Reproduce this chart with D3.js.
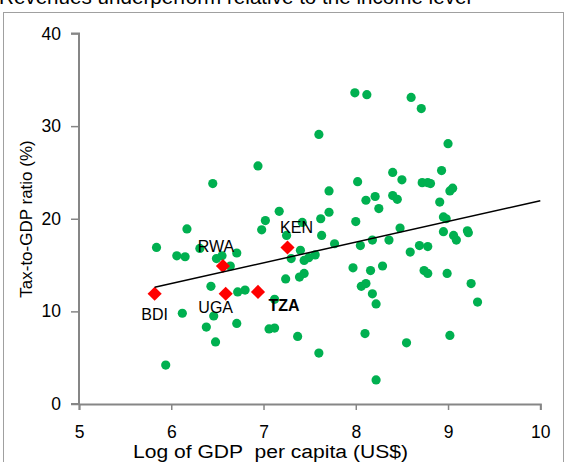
<!DOCTYPE html>
<html>
<head>
<meta charset="utf-8">
<script src="https://cdn.jsdelivr.net/npm/d3@7"></script>
<style>
  html, body { margin: 0; padding: 0; background: #fff; }
  svg { display: block; font-family: "Liberation Sans", Arial, sans-serif; }
</style>
</head>
<body>
<svg id="chart" width="567" height="462"></svg>
<script>
// ---- data ----
const titleText = "Revenues underperform relative to the income level";
const xLabel = "Log of GDP  per capita (US$)";
const yLabel = "Tax-to-GDP ratio (%)";
const xTicks = [5, 6, 7, 8, 9, 10];
const yTicks = [0, 10, 20, 30, 40];

// Other countries (log GDP per capita, tax-to-GDP %)
const otherX = [6.94,6.45,7.17,7.02,6.98,6.17,5.84,6.06,6.15,6.31,6.49,6.55,6.71,6.64,6.43,6.72,6.80,7.12,6.12,6.46,
  6.38,6.71,7.06,7.12,6.48,5.94,7.37,7.60,7.24,7.39,7.44,7.25,7.40,7.30,7.44,7.49,7.56,7.42,7.62,7.63,
  7.77,7.71,7.71,7.60,7.99,8.12,8.60,8.71,9.00,8.93,8.40,8.50,8.02,8.72,8.78,8.81,9.02,9.05,8.21,8.11,
  8.40,8.45,8.25,8.91,8.00,8.95,8.98,8.48,8.95,9.06,9.09,9.21,9.22,8.05,8.18,8.36,8.59,8.69,8.78,7.97,
  8.16,8.29,8.06,8.11,8.18,8.22,8.74,8.78,8.99,9.25,9.32,8.10,8.55,9.02,8.22];
const otherY = [25.7,23.8,20.8,19.8,18.8,18.9,16.9,16.0,15.9,16.8,15.7,16.0,16.3,14.9,12.7,12.1,12.3,11.3,9.8,9.5,
  8.3,8.7,8.1,8.2,6.7,4.2,7.3,5.5,13.5,13.7,14.1,18.2,16.6,15.7,15.5,15.8,16.1,19.6,20.0,18.2,
  17.3,20.7,23.0,29.1,33.6,33.4,33.1,31.9,28.1,25.2,25.0,24.2,24.0,23.9,23.9,23.8,23.0,23.3,22.4,22.0,
  22.5,22.1,21.1,21.8,19.7,20.2,20.0,19.0,18.6,18.2,17.7,18.7,18.5,17.1,17.7,17.7,16.4,17.1,17.0,14.7,
  14.4,14.9,12.7,13.0,11.9,10.8,14.4,14.1,14.1,13.0,11.0,7.6,6.6,7.4,2.6];

// Highlighted EAC countries
const eacNames = ["BDI", "UGA", "RWA", "TZA", "KEN"];
const eacX = [5.82, 6.59, 6.56, 6.94, 7.26];
const eacY = [11.9, 11.9, 14.9, 12.1, 16.9];

// Linear trend line end points
const trendX = [5.82, 10];
const trendY = [12.6, 21.95];

// ---- layout ----
const svg = d3.select("#chart");
const x = d3.scaleLinear().domain([5, 10]).range([79, 540.3]);
const y = d3.scaleLinear().domain([0, 40]).range([404, 33.5]);
const axisColor = "#868686";

// outer frame
svg.append("rect").attr("x", 3.5).attr("y", 12.5).attr("width", 560).attr("height", 460)
  .attr("fill", "none").attr("stroke", "#a0a0a0").attr("stroke-width", 1);

// cut-off title (the reference shows only its lower part)
svg.append("text").attr("x", -1).attr("y", 4).attr("font-size", 20).attr("fill", "#000")
  .attr("textLength", 472).attr("lengthAdjust", "spacingAndGlyphs")
  .text(titleText);

// axes
const gx = svg.append("g").attr("transform", `translate(0,${y(0)})`)
  .call(d3.axisBottom(x).tickValues(xTicks).tickSize(6).tickPadding(16).tickFormat(d3.format("d")));
const gy = svg.append("g").attr("transform", `translate(${x(5)},0)`)
  .call(d3.axisLeft(y).tickValues(yTicks).tickSize(8).tickPadding(10).tickFormat(d3.format("d")));
[gx, gy].forEach(g => {
  g.select(".domain").attr("stroke", axisColor).attr("stroke-width", 2);
  g.selectAll(".tick line").attr("stroke", axisColor).attr("stroke-width", 1.5);
  g.selectAll(".tick text").attr("font-size", 17.5).attr("fill", "#000")
    .attr("font-family", "'Liberation Sans', Arial, sans-serif");
});
gy.select(".domain").attr("d", `M-8,${y(40)}H0V${y(0)}H-8`);

// axis titles
svg.append("text").attr("x", 133).attr("y", 458).attr("font-size", 18)
  .attr("textLength", 275).attr("lengthAdjust", "spacingAndGlyphs")
  .style("white-space", "pre").text(xLabel);
svg.append("text").attr("transform", "translate(32,219) rotate(-90)").attr("font-size", 17)
  .attr("text-anchor", "middle").text(yLabel);

// green points
svg.append("g").selectAll("circle").data(otherX).join("circle")
  .attr("cx", (d) => x(d)).attr("cy", (d, i) => y(otherY[i])).attr("r", 4.6)
  .attr("fill", "#00B050");

// red diamonds
const diamond = d3.symbol().type(d3.symbolSquare).size(100);
svg.append("g").selectAll("path").data(eacX).join("path")
  .attr("d", diamond)
  .attr("transform", (d, i) => `translate(${x(d)},${y(eacY[i])}) rotate(45)`)
  .attr("fill", "#FF0000");

// trend line
svg.append("line")
  .attr("x1", x(trendX[0])).attr("y1", y(trendY[0]))
  .attr("x2", x(trendX[1])).attr("y2", y(trendY[1]))
  .attr("stroke", "#000").attr("stroke-width", 1.5);

// country labels
const labelOffsets = { BDI: [0, 26], UGA: [-10, 19], RWA: [-7, -14], TZA: [26, 19], KEN: [9, -14] };
svg.append("g").selectAll("text").data(eacNames).join("text")
  .attr("x", (d, i) => x(eacX[i]) + labelOffsets[d][0])
  .attr("y", (d, i) => y(eacY[i]) + labelOffsets[d][1])
  .attr("text-anchor", "middle").attr("font-size", 16)
  .attr("font-weight", d => d === "TZA" ? "bold" : "normal")
  .attr("fill", "#000")
  .text(d => d);
</script>
</body>
</html>
